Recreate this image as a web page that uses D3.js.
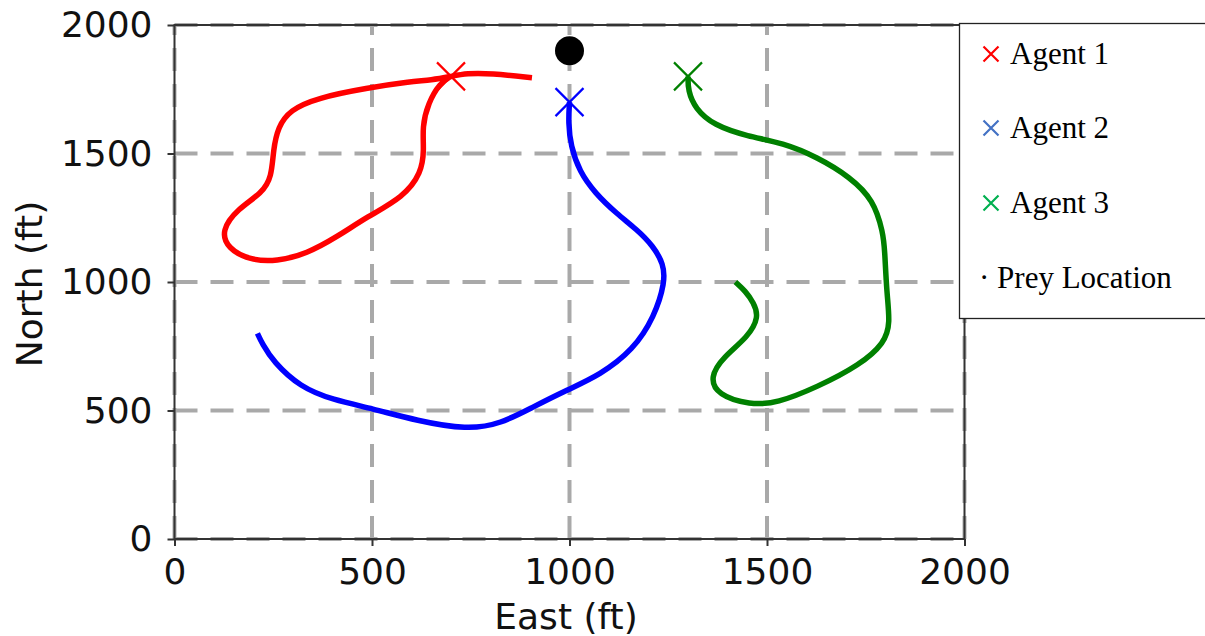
<!DOCTYPE html>
<html>
<head>
<meta charset="utf-8">
<script src="https://cdn.jsdelivr.net/npm/d3@7"></script>
<style>
  html, body { margin: 0; padding: 0; background: #fff; }
  svg { display: block; }
</style>
</head>
<body>
<svg id="chart" width="1205" height="636"></svg>
<script>
// Agent trajectories (feet), each ending at the agent's current position
const agentNames = ["Agent 1", "Agent 2", "Agent 3"];

const agent1East  = [905, 800, 740, 700, 650, 600, 487, 361, 292, 262, 250, 246, 222, 160, 118, 135, 191, 259, 335, 411, 487, 580, 625, 632, 627, 642, 672, 700];
const agent1North = [1795, 1812, 1812, 1800, 1786, 1780, 1755, 1716, 1669, 1603, 1514, 1409, 1346, 1285, 1200, 1130, 1085, 1080, 1110, 1175, 1253, 1331, 1424, 1514, 1603, 1696, 1774, 1800];

const agent2East  = [210, 222, 250, 318, 401, 500, 614, 741, 826, 908, 994, 1077, 1161, 1215, 1242, 1238, 1212, 1170, 1120, 1065, 1025, 1003, 997, 1000];
const agent2North = [800, 760, 690, 591, 541, 508, 460, 425, 448, 514, 580, 638, 735, 864, 1000, 1070, 1140, 1205, 1265, 1345, 1430, 1530, 1620, 1700];

const agent3East  = [1420, 1445, 1466, 1480, 1452, 1389, 1355, 1375, 1457, 1525, 1627, 1735, 1798, 1812, 1803, 1798, 1794, 1770, 1710, 1627, 1541, 1450, 1365, 1318, 1300, 1300];
const agent3North = [1000, 965, 920, 864, 786, 708, 630, 560, 522, 528, 591, 677, 763, 840, 957, 1125, 1191, 1319, 1409, 1486, 1541, 1567, 1610, 1675, 1745, 1800];

const preyEast = 1000;
const preyNorth = 1900;

const tickValues = [0, 500, 1000, 1500, 2000];

const lineColors   = ["#ff0000", "#0000ff", "#008000"];
const legendColors = ["#ff0000", "#4472c4", "#00b050"];

const svg = d3.select("#chart");

const x = d3.scaleLinear().domain([0, 2000]).range([174.5, 964.5]);
const y = d3.scaleLinear().domain([0, 2000]).range([539, 25]);

const tickFont = "'DejaVu Sans', sans-serif";

// Dashed grid
const grid = svg.append("g");
grid.selectAll("line.gx").data(tickValues).join("line")
  .attr("x1", d => x(d)).attr("x2", d => x(d))
  .attr("y1", y(0)).attr("y2", y(2000))
  .attr("stroke", "#a9a9a9").attr("stroke-width", 4)
  .attr("stroke-dasharray", "23,13");
grid.selectAll("line.gy").data(tickValues).join("line")
  .attr("y1", d => y(d)).attr("y2", d => y(d))
  .attr("x1", x(0)).attr("x2", x(2000))
  .attr("stroke", "#a9a9a9").attr("stroke-width", 4)
  .attr("stroke-dasharray", "23,13");

// Axes
const xAxis = svg.append("g")
  .attr("transform", `translate(0,${y(0)})`)
  .call(d3.axisBottom(x).tickValues(tickValues).tickSize(7).tickPadding(12).tickFormat(d3.format("d")));
const yAxis = svg.append("g")
  .attr("transform", `translate(${x(0)},0)`)
  .call(d3.axisLeft(y).tickValues(tickValues).tickSize(7).tickPadding(15).tickFormat(d3.format("d")));

[xAxis, yAxis].forEach(ax => {
  ax.select(".domain").remove();
  ax.selectAll(".tick line").attr("stroke", "#333").attr("stroke-width", 2);
  ax.selectAll(".tick text")
    .attr("font-family", tickFont).attr("font-size", 36).attr("fill", "#111");
});

// Plot frame
svg.append("rect")
  .attr("x", x(0)).attr("y", y(2000))
  .attr("width", x(2000) - x(0)).attr("height", y(0) - y(2000))
  .attr("fill", "none").attr("stroke", "#333").attr("stroke-width", 2);

// Axis titles
svg.append("text")
  .attr("x", 566).attr("y", 629)
  .attr("text-anchor", "middle")
  .attr("font-family", tickFont).attr("font-size", 36).attr("fill", "#111")
  .text("East (ft)");
svg.append("text")
  .attr("transform", "translate(42,284) rotate(-90)")
  .attr("text-anchor", "middle")
  .attr("font-family", tickFont).attr("font-size", 36).attr("fill", "#111")
  .text("North (ft)");

// Trajectories
const trajectories = [
  agent1East.map((e, i) => [e, agent1North[i]]),
  agent2East.map((e, i) => [e, agent2North[i]]),
  agent3East.map((e, i) => [e, agent3North[i]])
];

const line = d3.line()
  .x(d => x(d[0])).y(d => y(d[1]))
  .curve(d3.curveBasis);

svg.append("g").selectAll("path").data(trajectories).join("path")
  .attr("d", line)
  .attr("fill", "none")
  .attr("stroke", (d, i) => lineColors[i])
  .attr("stroke-width", 5.5)
  .attr("stroke-linecap", "butt")
  .attr("stroke-linejoin", "round");

// Current-position markers
const crossPath = r => `M${-r},${-r}L${r},${r}M${-r},${r}L${r},${-r}`;
svg.append("g").selectAll("path").data(trajectories).join("path")
  .attr("transform", d => { const p = d[d.length - 1]; return `translate(${x(p[0])},${y(p[1])})`; })
  .attr("d", crossPath(14))
  .attr("fill", "none")
  .attr("stroke", (d, i) => lineColors[i])
  .attr("stroke-width", 2.2);

// Prey location
svg.append("circle")
  .attr("cx", x(preyEast)).attr("cy", y(preyNorth))
  .attr("r", 14.5).attr("fill", "#000");

// Legend
const legend = svg.append("g");
legend.append("rect")
  .attr("x", 959.5).attr("y", 23.5)
  .attr("width", 260).attr("height", 295)
  .attr("fill", "#fff").attr("stroke", "#222").attr("stroke-width", 1.3);

const legendRows = [64, 138, 213];
agentNames.forEach((name, i) => {
  legend.append("path")
    .attr("transform", `translate(991,${legendRows[i] - 10})`)
    .attr("d", crossPath(7.5))
    .attr("fill", "none")
    .attr("stroke", legendColors[i])
    .attr("stroke-width", 2.2);
  legend.append("text")
    .attr("x", 1010).attr("y", legendRows[i])
    .attr("font-family", "'Liberation Serif', 'Times New Roman', serif")
    .attr("font-size", 31).attr("fill", "#000")
    .text(name);
});
legend.append("text")
  .attr("x", 979).attr("y", 288)
  .attr("font-family", "'Liberation Serif', 'Times New Roman', serif")
  .attr("font-size", 31).attr("fill", "#000")
  .text("· Prey Location");
</script>
</body>
</html>
